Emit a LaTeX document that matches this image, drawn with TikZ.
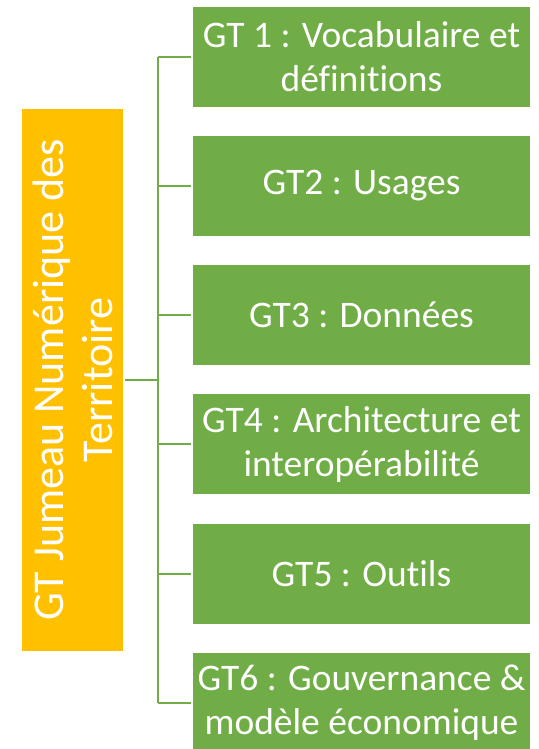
\documentclass[tikz,border=0pt]{standalone}
\usepackage{fontspec}
\setmainfont{Carlito}[Ligatures={NoCommon}]
\definecolor{gtgreen}{HTML}{70AD47}
\definecolor{gtorange}{HTML}{FFC000}
\begin{document}
\begin{tikzpicture}[x=1pt,y=-1pt,
  gtbox/.style={fill=gtgreen,draw=none,text=white,minimum width=337pt,minimum height=100pt,inner sep=0pt,align=center,font=\fontsize{37.5}{44}\selectfont},
  mainbox/.style={fill=gtorange,draw=none,text=white,minimum width=542pt,minimum height=101pt,inner sep=0pt,align=center,rotate=90,font=\fontsize{44}{49}\selectfont},
  link/.style={draw=gtgreen,line width=1.5pt}]
\useasboundingbox (0,0) rectangle (538,749);
\node[mainbox] (main) at (72.5,380) {GT Jumeau Numérique des\\Territoire};
\node[gtbox] (g1) at (361.5,57) {GT 1 : Vocabulaire et\\définitions};
\node[gtbox] (g2) at (361.5,186) {GT2 : Usages};
\node[gtbox] (g3) at (361.5,315) {GT3 : Données};
\node[gtbox] (g4) at (361.5,444) {GT4 : Architecture et\\interopérabilité};
\node[gtbox] (g5) at (361.5,574) {GT5 : Outils};
\node[gtbox] (g6) at (361.5,703) {GT6 : Gouvernance \&\\modèle économique};
\coordinate (trunk) at (158,380);
\draw[link] ([xshift=2pt]main.south) -- (trunk);
\draw[link] (g1.west -| trunk) -- (g6.west -| trunk);
\foreach \i in {1,...,6}{
  \draw[link] ([xshift=-2pt]g\i.west) -- (g\i.west -| trunk);
}
\end{tikzpicture}
\end{document}
